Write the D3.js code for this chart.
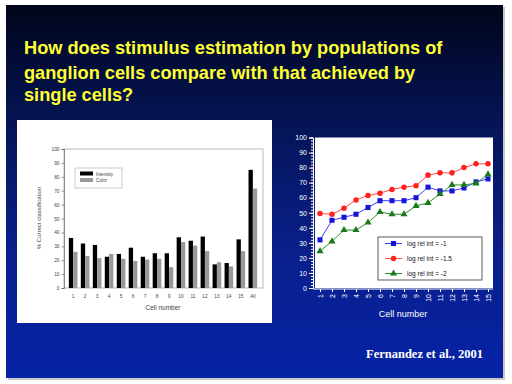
<!DOCTYPE html>
<html>
<head>
<meta charset="utf-8">
<script src="https://cdn.jsdelivr.net/npm/d3@7"></script>
<style>
  body { margin: 0; background: #ffffff; }
  svg { display: block; font-family: "Liberation Sans", Arial, sans-serif; }
</style>
</head>
<body>
<svg width="512" height="384"></svg>
<script>
// bar chart data (left)
const cells = ["1","2","3","4","5","6","7","8","9","10","11","12","13","14","15","All"]
const intensity = [36, 32, 31, 22.5, 24.5, 29, 22.5, 25, 25, 36.5, 34, 37, 17, 18, 35, 85]
const colorVals = [26, 23, 21.5, 24.5, 21, 19.5, 20.5, 21, 15, 33, 30.5, 26.5, 18.5, 15.5, 26.5, 71.5]
const barSeries = ["Intensity", "Color"]

// line chart data (right)
const cellNums = [1,2,3,4,5,6,7,8,9,10,11,12,13,14,15]
const relIntNeg1 = [32, 45, 47, 49, 53.5, 58, 58, 58, 60, 67, 64.5, 64.5, 66.5, 70.5, 72.5]
const relIntNeg15 = [49.5, 49, 53, 58.5, 61.5, 63, 65.5, 67, 68, 75, 76.5, 76.5, 80, 82.5, 82.5]
const relIntNeg2 = [24.5, 31, 38.5, 38.5, 43.5, 50.5, 49, 49, 54.5, 56.5, 62.5, 68.5, 68.5, 69.5, 75.5]
const lineLabels = ["log rel int = -1", "log rel int = -1.5", "log rel int = -2"]

const titleLines = [
  "How does stimulus estimation by populations of",
  "ganglion cells compare with that achieved by",
  "single cells?"
]

const svg = d3.select('svg')

// slide background
const defs = svg.append('defs')
const grad = defs.append('linearGradient').attr('id', 'bg').attr('x1', 0).attr('y1', 0).attr('x2', 0).attr('y2', 1)
grad.append('stop').attr('offset', '0%').attr('stop-color', '#01051a')
grad.append('stop').attr('offset', '30%').attr('stop-color', '#051453')
grad.append('stop').attr('offset', '65%').attr('stop-color', '#0a1f8a')
grad.append('stop').attr('offset', '100%').attr('stop-color', '#0623a6')

svg.append('rect').attr('x', 8).attr('y', 7).attr('width', 497).attr('height', 373).attr('fill', '#c8c8c8')
svg.append('rect').attr('x', 6).attr('y', 5).attr('width', 497).attr('height', 373).attr('fill', 'url(#bg)')

// title
svg.append('g').selectAll('text')
  .data(titleLines)
  .enter()
  .append('text')
    .attr('x', 24)
    .attr('y', (d, i) => [54, 78.5, 101][i])
    .attr('fill', '#ffff33')
    .attr('font-weight', 'bold')
    .attr('font-size', 18.2)
    .text(d => d)

// ---------- left: bar chart ----------
const left = svg.append('g')
left.append('rect').attr('x', 17).attr('y', 120).attr('width', 255).attr('height', 203).attr('fill', '#fff')

const xBand = d3.scaleBand().domain(cells).range([65.5, 260.5]).paddingInner(0.28).paddingOuter(0.28)
const xSub = d3.scaleBand().domain(barSeries).range([0, xBand.bandwidth()])
const yBar = d3.scaleLinear().domain([0, 100]).range([288, 149])
const barColor = d3.scaleOrdinal().domain(barSeries).range(['#000000', '#999999'])

left.append('rect').attr('x', 64).attr('y', 149).attr('width', 199).attr('height', 139)
  .attr('fill', 'none').attr('stroke', '#888').attr('stroke-width', 0.6)

const yAxisL = left.append('g').attr('transform', 'translate(64,0)')
  .call(d3.axisLeft(yBar).ticks(10).tickSize(2.5).tickPadding(2))
yAxisL.select('.domain').attr('stroke', '#555').attr('stroke-width', 0.6)
yAxisL.selectAll('line').attr('stroke', '#555').attr('stroke-width', 0.6)
yAxisL.selectAll('text').attr('font-size', 4.8).attr('fill', '#444').attr('font-family', 'Liberation Sans, Arial')

const xAxisL = left.append('g').attr('transform', 'translate(0,288)')
  .call(d3.axisBottom(xBand).tickSize(0).tickPadding(7))
xAxisL.select('.domain').remove()
xAxisL.selectAll('text').attr('font-size', 4.8).attr('fill', '#444').attr('font-family', 'Liberation Sans, Arial')

const barRows = cells.map((c, i) => ({ cell: c, values: [intensity[i], colorVals[i]] }))
left.append('g').selectAll('g')
  .data(barRows)
  .enter()
  .append('g')
    .attr('transform', d => `translate(${xBand(d.cell)},0)`)
  .selectAll('rect')
  .data(d => barSeries.map((s, j) => ({ series: s, value: d.values[j] })))
  .enter()
  .append('rect')
    .attr('x', d => xSub(d.series))
    .attr('width', xSub.bandwidth())
    .attr('y', d => yBar(d.value))
    .attr('height', d => yBar(0) - yBar(d.value))
    .attr('fill', d => barColor(d.series))

left.append('text')
  .attr('transform', 'translate(41,218) rotate(-90)')
  .attr('text-anchor', 'middle')
  .attr('font-size', 6).attr('fill', '#444')
  .text('% Correct classification')
left.append('text')
  .attr('x', 163).attr('y', 310)
  .attr('text-anchor', 'middle')
  .attr('font-size', 6.5).attr('fill', '#444')
  .text('Cell number')

// bar legend
const legL = left.append('g')
legL.append('rect').attr('x', 75).attr('y', 168).attr('width', 47).attr('height', 20)
  .attr('fill', '#fff').attr('stroke', '#999').attr('stroke-width', 0.5)
legL.selectAll('.sw').data(barSeries).enter().append('rect')
  .attr('x', 80).attr('y', (d, i) => 171.5 + i * 6.5).attr('width', 13).attr('height', 4)
  .attr('fill', d => barColor(d))
legL.selectAll('.lt').data(barSeries).enter().append('text')
  .attr('x', 96).attr('y', (d, i) => 175.5 + i * 6.5)
  .attr('font-size', 4.6).attr('fill', '#444')
  .text(d => d)

// ---------- right: line chart ----------
const right = svg.append('g')
const xPt = d3.scalePoint().domain(cellNums).range([320, 488])
const yLine = d3.scaleLinear().domain([0, 100]).range([288, 137.5])

right.append('rect').attr('x', 315).attr('y', 137.5).attr('width', 178).attr('height', 150.5).attr('fill', '#fff')

const yAxisR = right.append('g').attr('transform', 'translate(313,0)')
  .call(d3.axisLeft(yLine).tickValues(d3.range(0, 101, 10)).tickSize(4).tickPadding(2))
yAxisR.selectAll('line, .domain').attr('stroke', '#fff')
yAxisR.selectAll('text').attr('font-size', 7).attr('fill', '#fff').attr('font-family', 'Liberation Sans, Arial')
right.append('g').attr('transform', 'translate(313,0)')
  .call(d3.axisLeft(yLine).tickValues(d3.range(0, 101, 2)).tickSize(2).tickFormat(''))
  .call(g => g.select('.domain').remove())
  .selectAll('line').attr('stroke', '#fff')

const xAxisR = right.append('g').attr('transform', 'translate(0,289)')
  .call(d3.axisBottom(xPt).tickSize(3).tickPadding(2))
xAxisR.select('.domain').attr('stroke', '#fff').attr('d', 'M313,0H493')
xAxisR.selectAll('line').attr('stroke', '#fff')
xAxisR.selectAll('text')
  .attr('font-size', 7).attr('fill', '#fff').attr('font-family', 'Liberation Sans, Arial')
  .attr('text-anchor', 'end')
  .attr('transform', 'rotate(-90)')
  .attr('x', -5).attr('y', 0).attr('dy', '0.35em')

right.append('text')
  .attr('x', 403).attr('y', 317)
  .attr('text-anchor', 'middle')
  .attr('font-size', 9).attr('fill', '#fff')
  .text('Cell number')

const lineSeries = [
  { name: lineLabels[0], values: relIntNeg1, stroke: '#3a3aff', fill: '#1515d8', shape: d3.symbolSquare, size: 26 },
  { name: lineLabels[1], values: relIntNeg15, stroke: '#ff4a4a', fill: '#ff2020', shape: d3.symbolCircle, size: 24 },
  { name: lineLabels[2], values: relIntNeg2, stroke: '#2f8f2f', fill: '#1a7a1a', shape: d3.symbolTriangle, size: 22 }
]
const line = d3.line().x((d, i) => xPt(cellNums[i])).y(d => yLine(d))

lineSeries.forEach(s => {
  right.append('path').datum(s.values)
    .attr('d', line).attr('fill', 'none').attr('stroke', s.stroke).attr('stroke-width', 1)
  right.append('g').selectAll('path')
    .data(s.values)
    .enter()
    .append('path')
      .attr('transform', (d, i) => `translate(${xPt(cellNums[i])},${yLine(d)})`)
      .attr('d', d3.symbol().type(s.shape).size(s.size))
      .attr('fill', s.fill)
})

// line legend
const legR = right.append('g')
legR.append('rect').attr('x', 378).attr('y', 237).attr('width', 104).attr('height', 43)
  .attr('fill', '#fff').attr('stroke', '#333').attr('stroke-width', 0.8)
lineSeries.forEach((s, i) => {
  const yy = 243.5 + i * 15
  legR.append('line').attr('x1', 385).attr('x2', 402).attr('y1', yy).attr('y2', yy)
    .attr('stroke', s.stroke).attr('stroke-width', 1)
  legR.append('path').attr('transform', `translate(393.5,${yy})`)
    .attr('d', d3.symbol().type(s.shape).size(s.size)).attr('fill', s.fill)
  legR.append('text').attr('x', 407).attr('y', yy + 2.2)
    .attr('font-size', 6.5).attr('fill', '#111')
    .text(s.name)
})

// citation
svg.append('text')
  .attr('x', 483).attr('y', 358)
  .attr('text-anchor', 'end')
  .attr('font-family', '"Liberation Serif", "Times New Roman", serif')
  .attr('font-weight', 'bold')
  .attr('font-size', 12.5)
  .attr('fill', '#fff')
  .text('Fernandez et al., 2001')
</script>
</body>
</html>
